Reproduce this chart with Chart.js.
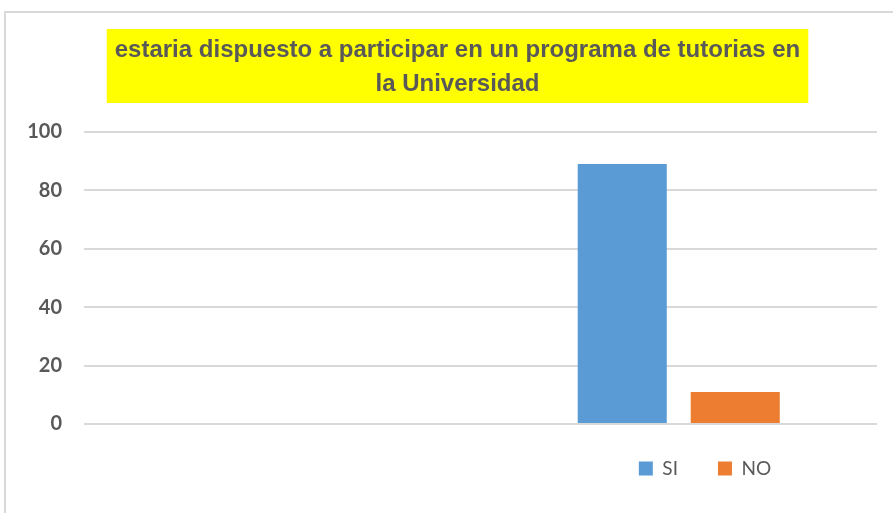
<!DOCTYPE html>
<html>
<head>
<meta charset="utf-8">
<script src="https://cdn.jsdelivr.net/npm/chart.js@4/dist/chart.umd.min.js"></script>
<style>
  html, body { margin:0; padding:0; background:#fff; overflow:hidden; }
  #frame { position:absolute; left:4px; top:11px; width:1000px; height:600px;
           border-left:2px solid #d9d9d9; border-top:2px solid #d9d9d9; }
  #wrap { position:absolute; left:0; top:0; width:893px; height:513px; }
</style>
</head>
<body>
<div id="frame"></div>
<div id="wrap"><canvas id="chart"></canvas></div>
<script>
// chart data
const titleLines = ['estaria dispuesto a participar en un programa de tutorias en', 'la Universidad'];
const categories = ['', ''];
const siValues = [null, 89];
const noValues = [null, 11];
const yTicks = [0, 20, 40, 60, 80, 100];

const GREY = '#595959';

// yellow box behind the title, title/legend nudged like the original
const titleBox = {
  id:'titleBox',
  beforeDraw(chart){
    const tb = chart.titleBlock;
    const o = chart.options.plugins.title;
    const ctx = chart.ctx;
    ctx.save();
    ctx.font = `bold ${o.font.size}px ${o.font.family}`;
    const w = Math.max(...titleLines.map(t => ctx.measureText(t).width));
    const cx = (tb.left + tb.right) / 2;
    const top = tb.top + o.padding.top - 4;
    const bottom = tb.bottom - o.padding.bottom + 2;
    ctx.fillStyle = '#ffff00';
    ctx.fillRect(cx - w/2 - 8, top, w + 16, bottom - top);
    ctx.restore();
  }
};
const shiftBoxes = {
  id:'shiftBoxes',
  afterLayout(chart){
    const tb = chart.titleBlock;
    tb.left += 8; tb.right += 8;
    const lg = chart.legend;
    const dx = 705 - (lg.left + lg.right) / 2;
    lg.left += dx; lg.right += dx;
    lg.top -= 5; lg.bottom -= 5;
  }
};

new Chart(document.getElementById('chart'), {
  type:'bar',
  data:{
    labels:categories,
    datasets:[
      {label:'SI', data:siValues, backgroundColor:'#5b9bd5'},
      {label:'NO', data:noValues, backgroundColor:'#ed7d31'}
    ]
  },
  options:{
    responsive:true, maintainAspectRatio:false, animation:false,
    layout:{padding:{left:22, right:16, top:1, bottom:20}},
    datasets:{bar:{categoryPercentage:0.57, barPercentage:0.788}},
    plugins:{
      title:{display:true, text:titleLines, color:GREY,
        font:{family:'"Liberation Sans Narrow", "Arial Narrow", "Liberation Sans", sans-serif', size:24, weight:'bold', lineHeight:34/24},
        padding:{top:32, bottom:31}},
      legend:{position:'bottom', align:'center',
        labels:{color:GREY, boxWidth:14, boxHeight:14, padding:40,
          font:{family:'Lato, "Open Sans", sans-serif', size:19}}},
      tooltip:{enabled:false}
    },
    scales:{
      x:{display:false, grid:{display:false}},
      y:{min:0, max:100,
        afterFit(s){ s.width = 62; },
        afterBuildTicks(s){ s.ticks = yTicks.map(v => ({value:v})); },
        grid:{color:'#d9d9d9', lineWidth:2, drawTicks:false},
        border:{display:false},
        ticks:{color:GREY, padding:22, font:{family:'Lato, "Open Sans", sans-serif', size:20, weight:'bold'}}
      }
    }
  },
  plugins:[titleBox, shiftBoxes]
});
</script>
</body>
</html>
